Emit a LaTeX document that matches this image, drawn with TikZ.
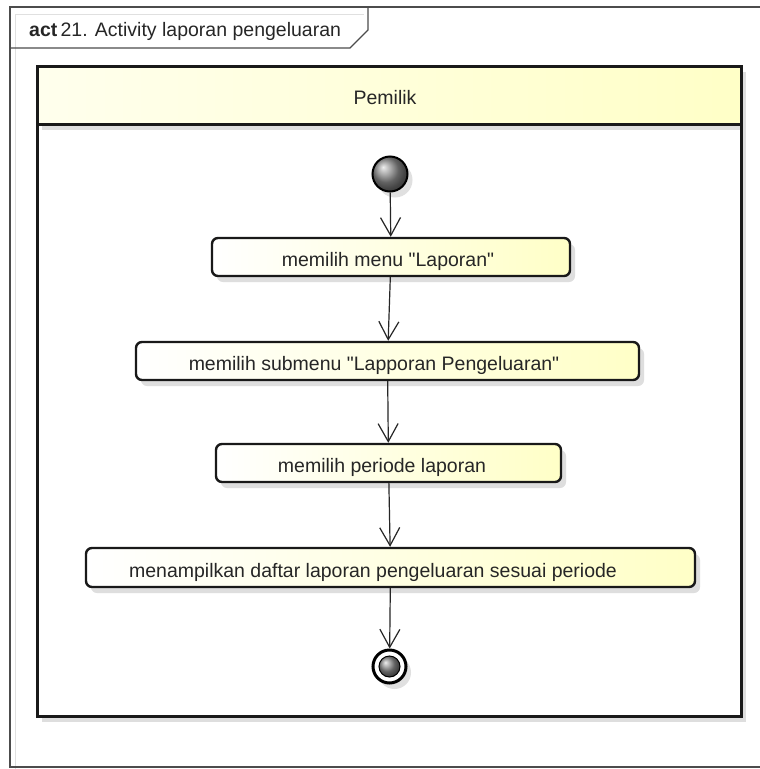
\documentclass[tikz,border=0pt]{standalone}
\usepackage{fontspec}
\newfontfamily\umlfont{Liberation Sans}
\usetikzlibrary{arrows.meta,shadows}

\begin{document}
\begin{tikzpicture}[x=1pt,y=-1pt,
  font=\umlfont\fontsize{19.5}{23}\selectfont,
  shade/.style={drop shadow={shadow xshift=5pt,shadow yshift=-6pt,fill=black!13,opacity=1}},
  action/.style={draw=black!90,line width=2.4pt,rounded corners=6pt,minimum height=38pt,
    left color=white,right color=yellow!22,shade},
  lbl/.style={anchor=base,text=black!85,inner sep=0pt},
  flow/.style={-{Straight Barb[length=18pt,width=20pt,line width=1.2pt]},line width=1.2pt,black!85}]
\useasboundingbox (0,0) rectangle (760,769);

% frame and tab
\draw[black!12,line width=1pt] (15,769) -- (15,14) -- (364,14);
\draw[black!70,line width=1.2pt] (10,7) rectangle (768,767);
\draw[black!70,line width=1.2pt] (10,48) -- (350,48) -- (368,30) -- (368,7);
\node[lbl,anchor=base west] (title) at (29,36) {\textbf{act}\,21. Activity laporan pengeluaran};

% swimlane
\path[fill=white,shade] (37,66) rectangle (741,716);
\path[left color=yellow!7,right color=yellow!22,shade] (37,66) rectangle (741,124);
\draw[line width=3pt,black!90] (37,124) -- (741,124);
\draw[line width=3pt,black!90] (37,66) rectangle (741,716);
\node[lbl] (lane) at (385,104) {Pemilik};

% start / end
\node[circle,draw,line width=2pt,minimum size=35pt,ball color=black!45,
  drop shadow={shadow xshift=5pt,shadow yshift=-6pt,fill=black!12,opacity=1}] (start) at (390,174) {};
\node[circle,draw,line width=3pt,minimum size=33pt,fill=white,
  drop shadow={shadow xshift=5pt,shadow yshift=-6pt,fill=black!12,opacity=1}] (end) at (389.5,666.5) {};
\node[circle,draw,line width=1pt,minimum size=21pt,ball color=black!45] (endin) at (389.5,666.5) {};

% actions
\node[action,minimum width=358pt] (a1) at (391,257) {};
\node[lbl] (t1) at (388,266) {memilih menu "Laporan"};
\node[action,minimum width=503pt] (a2) at (387.5,361) {};
\node[lbl] (t2) at (374,370) {memilih submenu "Lapporan Pengeluaran"};
\node[action,minimum width=345pt] (a3) at (388.5,463) {};
\node[lbl] (t3) at (382,472) {memilih periode laporan};
\node[action,minimum width=609pt,minimum height=39pt] (a4) at (390.5,567.5) {};
\node[lbl] (t4) at (373,577) {menampilkan daftar laporan pengeluaran sesuai periode};

\draw[flow] (start) -- (a1);
\draw[flow] (a1) -- (a2);
\draw[flow] (a2) -- (a3);
\draw[flow] (a3) -- (a4);
\draw[flow] (a4) -- (end);
\end{tikzpicture}
\end{document}
